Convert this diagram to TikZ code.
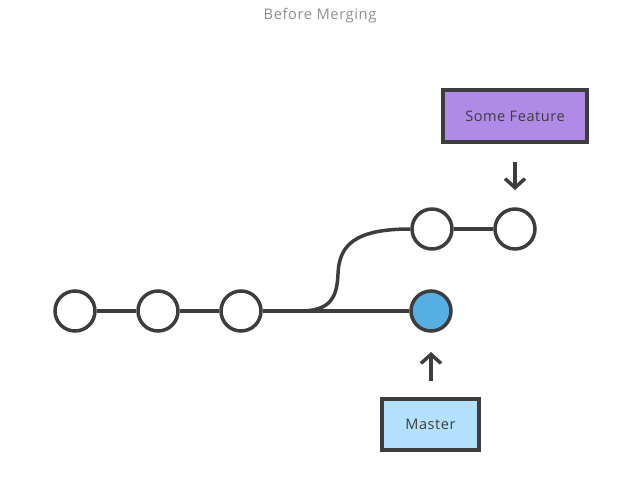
\documentclass[tikz,border=0pt]{standalone}
\usepackage{fontspec}
\setmainfont[LetterSpace=4]{Open Sans}
\usetikzlibrary{arrows.meta}
\definecolor{ink}{HTML}{3D3D3D}
\definecolor{title}{HTML}{8F8F8F}
\definecolor{featfill}{HTML}{B08AE6}
\definecolor{mastfill}{HTML}{B3E1FD}
\definecolor{headfill}{HTML}{57AEE3}
\tikzset{
  commit/.style={circle, draw=ink, line width=3.5pt, minimum size=40pt, inner sep=0pt, fill=white},
  headcommit/.style={commit, fill=headfill},
  branchbox/.style={draw=ink, line width=3.5pt, inner sep=0pt, font=\fontsize{14.5pt}{16pt}\selectfont, text=ink},
  edge/.style={draw=ink, line width=3.5pt},
  pointer/.style={draw=ink, line width=3.5pt, -{Straight Barb[length=9pt, width=20pt, line width=3.5pt]}}
}
\begin{document}
\begin{tikzpicture}[x=1pt, y=-1pt]
\useasboundingbox (0,0) rectangle (640,480);
\node[text=title, font=\fontsize{14.7pt}{16pt}\selectfont] (title) at (320,16) {Before Merging};
\coordinate (fork) at (300,311);
\node[commit] (c1) at (75,311) {};
\node[commit] (c2) at (158,311) {};
\node[commit] (c3) at (241,311) {};
\node[headcommit] (m1) at (431,311) {};
\node[commit] (f1) at (432,229) {};
\node[commit] (f2) at (515,229) {};
\path[edge] (c1) -- (c2);
\path[edge] (c2) -- (c3);
\path[edge] (c3) -- (m1);
\path[edge] (f1) -- (f2);
\path[edge] (fork) .. controls (330,311) and (337,298) .. (338,274)
  .. controls (339,245) and (355,229) .. (f1.west);
\node[branchbox, fill=featfill, minimum width=144pt, minimum height=52pt] (feat) at (515,116) {Some Feature};
\node[branchbox, fill=mastfill, minimum width=97pt, minimum height=51pt] (mast) at (430.5,424.5) {Master};
\coordinate (fa) at (515,162);
\coordinate (fb) at (515,190);
\coordinate (ma) at (431,381);
\coordinate (mb) at (431,352);
\draw[pointer] (fa) -- (fb);
\draw[pointer] (ma) -- (mb);
\end{tikzpicture}
\end{document}
